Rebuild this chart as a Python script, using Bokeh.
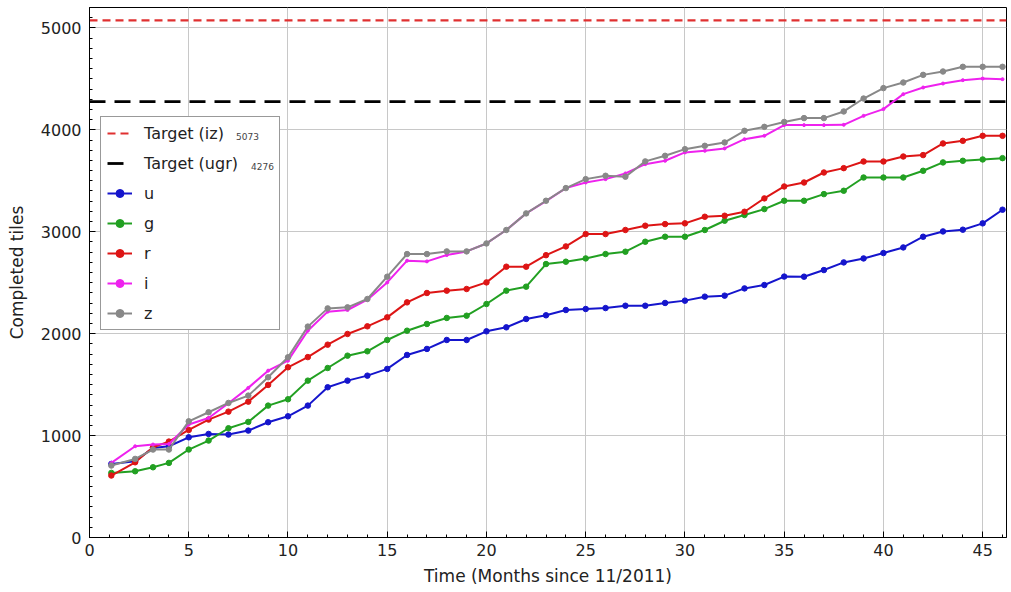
from bokeh.plotting import figure
from bokeh.models import (Range1d, SingleIntervalTicker, Legend, LegendItem)
from bokeh.embed import file_html
from bokeh.resources import INLINE

# ---- data ----
months = [1.1, 2.3, 3.2, 4, 5, 6, 7, 8, 9, 10,
          11, 12, 13, 14, 15, 16, 17, 18, 19, 20,
          21, 22, 23, 24, 25, 26, 27, 28, 29, 30,
          31, 32, 33, 34, 35, 36, 37, 38, 39, 40,
          41, 42, 43, 44, 45, 46]
u_tiles = [722, 748, 879, 895, 983, 1016, 1010, 1049, 1131, 1189,
           1294, 1474, 1539, 1588, 1654, 1791, 1850, 1938, 1938, 2023,
           2062, 2144, 2180, 2232, 2242, 2251, 2274, 2274, 2301, 2324,
           2363, 2373, 2444, 2477, 2560, 2559, 2624, 2699, 2738, 2791,
           2846, 2951, 3003, 3020, 3082, 3216]
g_tiles = [634, 650, 689, 732, 863, 951, 1072, 1134, 1294, 1356,
           1539, 1663, 1784, 1827, 1938, 2029, 2095, 2154, 2176, 2291,
           2422, 2461, 2683, 2706, 2738, 2781, 2804, 2902, 2951, 2951,
           3017, 3108, 3164, 3222, 3304, 3304, 3369, 3402, 3532, 3532,
           3532, 3598, 3680, 3696, 3709, 3722]
r_tiles = [608, 738, 885, 941, 1055, 1157, 1235, 1333, 1497, 1670,
           1770, 1892, 1997, 2072, 2160, 2307, 2399, 2422, 2438, 2503,
           2657, 2657, 2770, 2856, 2977, 2977, 3017, 3059, 3075, 3082,
           3147, 3157, 3196, 3327, 3444, 3483, 3581, 3624, 3689, 3689,
           3738, 3752, 3866, 3892, 3941, 3941]
i_tiles = [732, 895, 912, 918, 1108, 1173, 1317, 1468, 1637, 1735,
           2029, 2216, 2232, 2333, 2503, 2716, 2709, 2771, 2807, 2885,
           3017, 3180, 3300, 3428, 3483, 3516, 3572, 3663, 3696, 3778,
           3794, 3817, 3908, 3941, 4046, 4046, 4046, 4049, 4137, 4203,
           4350, 4415, 4454, 4487, 4503, 4497]
z_tiles = [706, 771, 863, 863, 1140, 1229, 1320, 1392, 1572, 1768,
           2069, 2248, 2258, 2340, 2559, 2781, 2781, 2807, 2807, 2885,
           3017, 3180, 3304, 3428, 3516, 3549, 3540, 3690, 3745, 3810,
           3843, 3876, 3990, 4029, 4077, 4115, 4115, 4180, 4307, 4409,
           4464, 4539, 4572, 4618, 4618, 4618]
target_iz = 5073
target_ugr = 4276
x_limits = [0, 46.2]
y_limits = [0, 5200]
x_title = "Time (Months since 11/2011)"
y_title = "Completed tiles"

FONT = "DejaVu Sans"
TXT = "#222222"

p = figure(width=1010, height=591, output_backend="svg", toolbar_location=None,
           x_range=Range1d(*x_limits), y_range=Range1d(*y_limits),
           min_border_left=89, min_border_right=4, min_border_top=7,
           min_border_bottom=54)
p.background_fill_color = "white"
p.border_fill_color = "white"
p.outline_line_color = "black"
p.outline_line_width = 1

p.xaxis.ticker = SingleIntervalTicker(interval=5, num_minor_ticks=5)
p.yaxis.ticker = SingleIntervalTicker(interval=1000, num_minor_ticks=10)
for ax in (p.xaxis, p.yaxis):
    ax.major_tick_in = 6
    ax.major_tick_out = 0
    ax.minor_tick_in = 3
    ax.minor_tick_out = 0
    ax.axis_line_color = "black"
    ax.major_tick_line_color = "black"
    ax.minor_tick_line_color = "black"
    ax.major_label_text_font = FONT
    ax.major_label_text_font_size = "16px"
    ax.major_label_text_color = TXT
    ax.axis_label_text_font = FONT
    ax.axis_label_text_font_size = "17px"
    ax.axis_label_text_font_style = "normal"
    ax.axis_label_text_color = TXT
p.xaxis.axis_label = x_title
p.yaxis.axis_label = y_title
p.xaxis.major_label_standoff = 6
p.xaxis.axis_label_standoff = 7
p.yaxis.major_label_standoff = 8
p.yaxis.axis_label_standoff = 11

p.grid.grid_line_color = "#c8c8c8"
p.grid.grid_line_width = 1

r_iz = p.line(x_limits, [target_iz, target_iz], line_color="#e03030",
              line_width=2.2, line_dash="8 5")
r_ugr = p.line(x_limits, [target_ugr, target_ugr], line_color="black",
               line_width=2.8, line_dash="16 9")

series = [("u", u_tiles, "#1515cc", 5.5),
          ("g", g_tiles, "#22a022", 5.5),
          ("r", r_tiles, "#dd1515", 5.5),
          ("i", i_tiles, "#ee22ee", 3),
          ("z", z_tiles, "#888888", 5.5)]
items = [LegendItem(label="Target (iz)", renderers=[r_iz]),
         LegendItem(label="Target (ugr)", renderers=[r_ugr])]
for name, vals, col, ms in series:
    ln = p.line(months, vals, line_color=col, line_width=2)
    sc = p.scatter(months, vals, size=ms, fill_color=col, line_color=col)
    items.append(LegendItem(label=name, renderers=[ln, sc]))

legend = Legend(items=items, location=(11, 207))
legend.border_line_color = "#333333"
legend.border_line_width = 1.5
legend.background_fill_color = "white"
legend.background_fill_alpha = 1
legend.label_text_font = FONT
legend.label_text_font_size = "16px"
legend.label_text_color = TXT
legend.glyph_width = 25
legend.glyph_height = 20
legend.label_height = 20
legend.spacing = 10
legend.padding = 6
legend.margin = 0
legend.label_standoff = 12
legend.label_width = 129
p.add_layout(legend, "center")

# small target values next to the legend labels (drawn as tiny extra legends
# so that they render on top of the main legend box)
dummy = p.line([], [], line_alpha=0)
for txt, loc in [(str(target_iz), (146, 395)), (str(target_ugr), (161, 365))]:
    small = Legend(items=[LegendItem(label=txt, renderers=[dummy])],
                   location=loc)
    small.border_line_alpha = 0
    small.background_fill_alpha = 0
    small.label_text_font = FONT
    small.label_text_font_size = "9px"
    small.label_text_color = "#444444"
    small.glyph_width = 1
    small.glyph_height = 10
    small.label_height = 10
    small.label_standoff = 0
    small.padding = 0
    small.margin = 0
    small.spacing = 0
    p.add_layout(small, "center")

open("out.html", "w").write(file_html(p, INLINE))
